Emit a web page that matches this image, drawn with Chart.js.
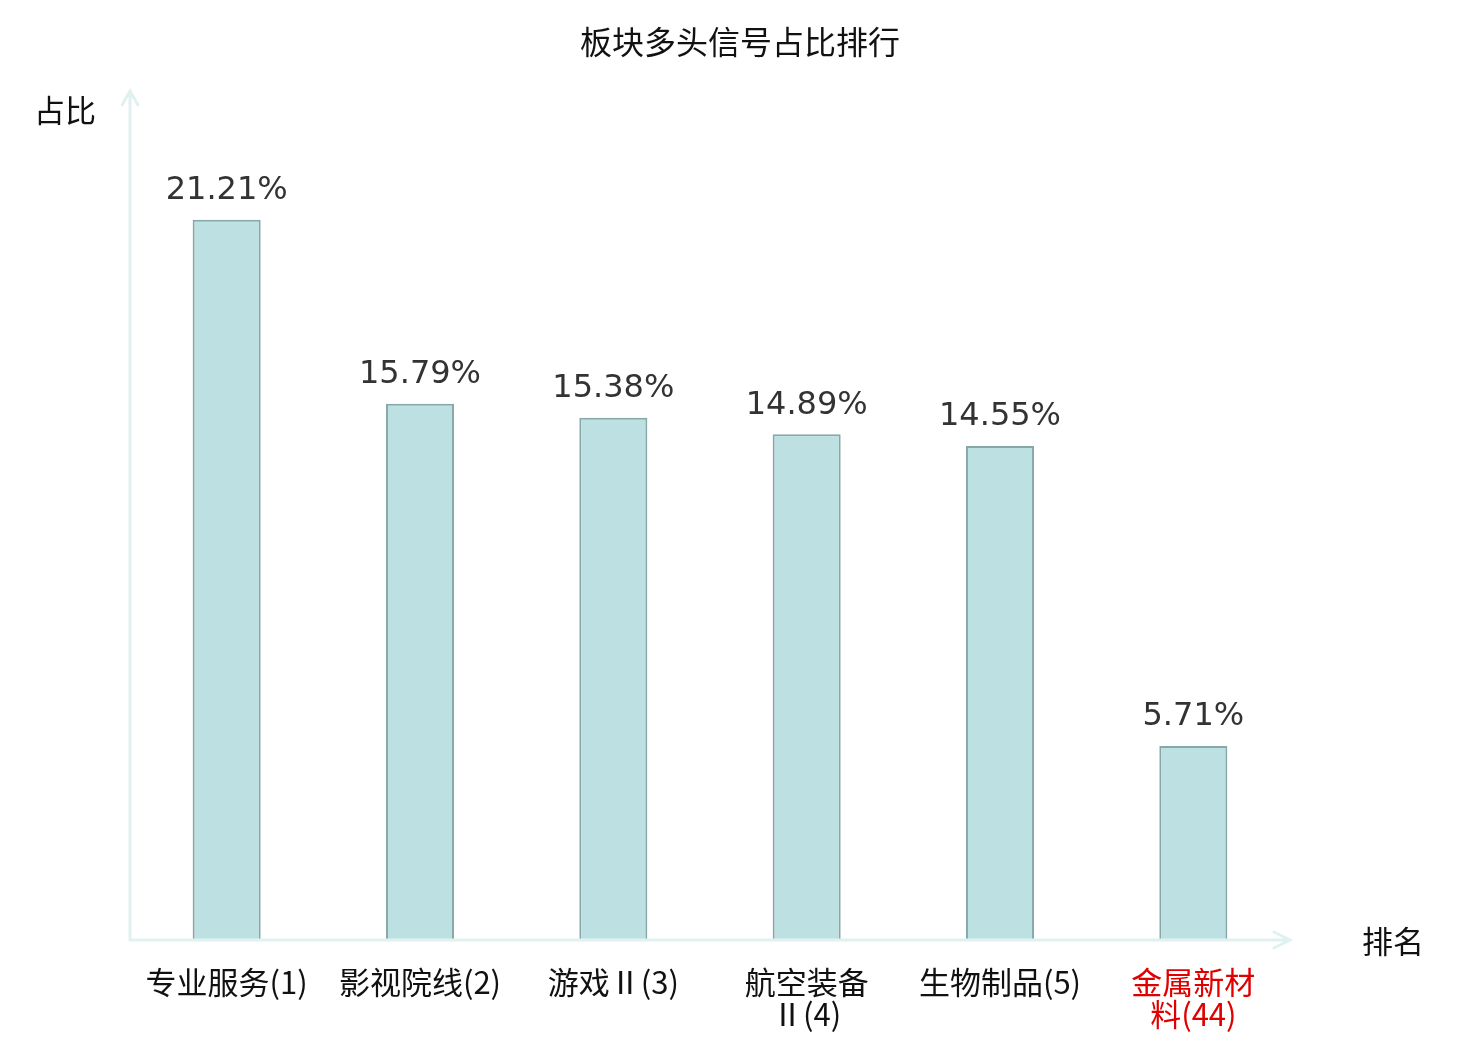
<!DOCTYPE html>
<html>
<head>
    <title>板块多头信号占比排行</title>
    <script src="https://cdn.jsdelivr.net/npm/chart.js"></script>
    <style>
        body { margin: 0; background: #fff; }
        #wrap { width: 1480px; height: 1040px; }
    </style>
</head>
<body>
    <div id="wrap"><canvas id="myChart" width="1480" height="1040"></canvas></div>
    <script>
        // Sectors (ranking in brackets), wrapped like the original
        const categories = [
            ['专业服务(1)'],
            ['影视院线(2)'],
            ['游戏Ⅱ(3)'],
            ['航空装备', 'Ⅱ(4)'],
            ['生物制品(5)'],
            ['金属新材', '料(44)']
        ];
        const shares = [21.21, 15.79, 15.38, 14.89, 14.55, 5.71];
        const labelColors = ['#111', '#111', '#111', '#111', '#111', '#e00000'];

        const cjk = '"Noto Sans CJK SC", "DejaVu Sans", sans-serif';
        const axisColor = '#dff2ef';

        // title, axis names, arrows and value labels
        const decor = {
            id: 'decor',
            afterDatasetsDraw(chart) {
                const { ctx, chartArea: a } = chart;
                ctx.save();

                // axes with arrow heads
                ctx.strokeStyle = axisColor;
                ctx.lineWidth = 3;
                ctx.lineCap = 'round';
                ctx.beginPath();
                ctx.moveTo(a.left, a.bottom);
                ctx.lineTo(a.left, a.top);
                ctx.moveTo(a.left - 8, a.top + 14);
                ctx.lineTo(a.left, a.top);
                ctx.lineTo(a.left + 8, a.top + 14);
                ctx.moveTo(a.left, a.bottom);
                ctx.lineTo(a.right, a.bottom);
                ctx.moveTo(a.right - 16, a.bottom - 8);
                ctx.lineTo(a.right, a.bottom);
                ctx.lineTo(a.right - 16, a.bottom + 8);
                ctx.stroke();

                // value labels
                const meta = chart.getDatasetMeta(0);
                ctx.fillStyle = '#333';
                ctx.font = '32px "DejaVu Sans", sans-serif';
                ctx.textAlign = 'center';
                ctx.textBaseline = 'bottom';
                meta.data.forEach((bar, i) => {
                    ctx.fillText(shares[i].toFixed(2) + '%', bar.x, bar.y - 13);
                });

                // title and axis names
                ctx.fillStyle = '#111';
                ctx.textBaseline = 'middle';
                ctx.font = '32px ' + cjk;
                ctx.fillText('板块多头信号占比排行', 740, 42);
                ctx.font = '31px ' + cjk;
                ctx.textAlign = 'left';
                ctx.fillText('占比', 34, 110);
                ctx.fillText('排名', 1362, 941);
                ctx.restore();
            }
        };

        const ctx = document.getElementById('myChart').getContext('2d');
        const myChart = new Chart(ctx, {
            type: 'bar',
            data: {
                labels: categories,
                datasets: [{
                    data: shares,
                    backgroundColor: '#bde0e3',
                    borderColor: '#87a8a9',
                    borderWidth: 2,
                    barPercentage: 0.352,
                    categoryPercentage: 1
                }]
            },
            options: {
                responsive: false,
                animation: false,
                layout: { padding: { left: 130, right: 190, top: 91, bottom: 0 } },
                plugins: {
                    legend: { display: false },
                    tooltip: { enabled: false }
                },
                scales: {
                    x: {
                        grid: { display: false, drawTicks: false },
                        border: { display: false },
                        ticks: {
                            padding: 26,
                            maxRotation: 0,
                            autoSkip: false,
                            color: c => labelColors[c.index],
                            font: { family: cjk, size: 31, lineHeight: 1.03 }
                        },
                        afterFit: s => { s.height = 100; }
                    },
                    y: {
                        min: 0,
                        max: 25,
                        display: false,
                        afterFit: s => { s.width = 0; }
                    }
                }
            },
            plugins: [decor]
        });
    </script>
</body>
</html>
